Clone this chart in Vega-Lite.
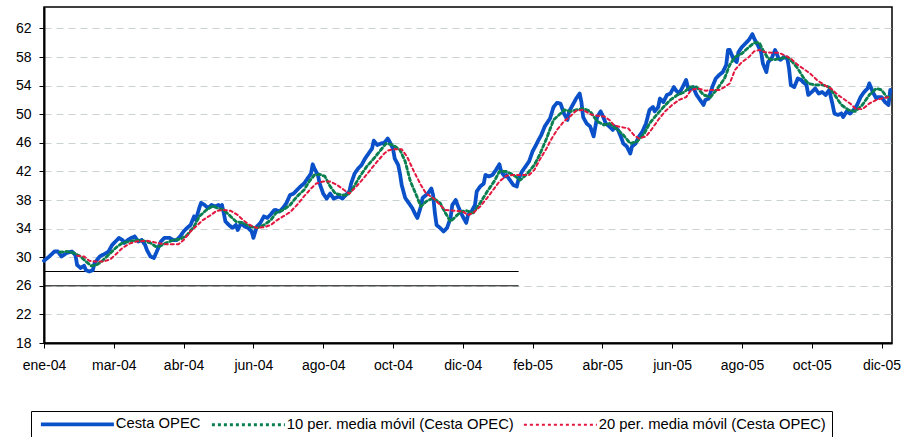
{
  "$schema": "https://vega.github.io/schema/vega-lite/v6.json",
  "autosize": {"type": "none"},
  "padding": {"left": 44, "top": 7, "right": 13, "bottom": 94},
  "width": 848,
  "height": 336,
  "background": "white",
  "config": {
    "font": "Liberation Sans",
    "view": {"stroke": "black", "strokeWidth": 1.5},
    "axis": {
      "title": null,
      "domainColor": "black",
      "domainWidth": 2,
      "tickColor": "black",
      "tickSize": 5,
      "tickWidth": 1,
      "labelFontSize": 14,
      "labelColor": "black",
      "labelFont": "Liberation Sans",
      "gridColor": "#c8d2d2",
      "gridDash": [7, 5],
      "gridWidth": 1
    },
    "legend": {
      "orient": "none",
      "legendX": -13,
      "legendY": 404,
      "direction": "horizontal",
      "title": null,
      "labelFontSize": 14.8,
      "labelColor": "black",
      "labelFont": "Liberation Sans",
      "labelLimit": 0,
      "padding": 6,
      "strokeColor": "black",
      "fillColor": "white",
      "symbolType": "M-7.3,0H7.3",
      "symbolSize": 100,
      "symbolOffset": 33,
      "labelOffset": 31,
      "columnPadding": 5,
      "symbolStrokeWidth": 2
    }
  },
  "layer": [
    {
      "data": {"values": [
        {"nivel": 28, "desde": 0, "hasta": 272},
        {"nivel": 26, "desde": 0, "hasta": 272}
      ]},
      "mark": {"type": "rule", "color": "black", "strokeWidth": 1},
      "encoding": {
        "x": {"field": "desde", "type": "quantitative", "scale": {"domain": [0, 486], "nice": false, "zero": false}},
        "x2": {"field": "hasta"},
        "y": {"field": "nivel", "type": "quantitative", "scale": {"domain": [18, 65], "nice": false, "zero": false}}
      }
    },
    {
      "data": {"values": [
        {"s":"Cesta OPEC","i":0,"v":29.5},{"s":"Cesta OPEC","i":3,"v":30.1},{"s":"Cesta OPEC","i":6,"v":30.8},{"s":"Cesta OPEC","i":8,"v":30.8},{"s":"Cesta OPEC","i":10,"v":30.1},{"s":"Cesta OPEC","i":13,"v":30.6},{"s":"Cesta OPEC","i":16,"v":30.8},{"s":"Cesta OPEC","i":18,"v":30.3},{"s":"Cesta OPEC","i":19,"v":28.9},{"s":"Cesta OPEC","i":21,"v":28.5},
        {"s":"Cesta OPEC","i":23,"v":28.8},{"s":"Cesta OPEC","i":24,"v":28.2},{"s":"Cesta OPEC","i":26,"v":28.0},{"s":"Cesta OPEC","i":28,"v":28.2},{"s":"Cesta OPEC","i":29,"v":29.2},{"s":"Cesta OPEC","i":32,"v":30.1},{"s":"Cesta OPEC","i":35,"v":30.5},{"s":"Cesta OPEC","i":37,"v":30.8},{"s":"Cesta OPEC","i":39,"v":31.7},{"s":"Cesta OPEC","i":41,"v":32.2},
        {"s":"Cesta OPEC","i":43,"v":32.7},{"s":"Cesta OPEC","i":45,"v":32.4},{"s":"Cesta OPEC","i":46,"v":32.0},{"s":"Cesta OPEC","i":48,"v":32.4},{"s":"Cesta OPEC","i":50,"v":32.7},{"s":"Cesta OPEC","i":52,"v":32.9},{"s":"Cesta OPEC","i":54,"v":32.2},{"s":"Cesta OPEC","i":56,"v":32.4},{"s":"Cesta OPEC","i":58,"v":31.7},{"s":"Cesta OPEC","i":59,"v":31.0},
        {"s":"Cesta OPEC","i":61,"v":30.1},{"s":"Cesta OPEC","i":63,"v":29.9},{"s":"Cesta OPEC","i":65,"v":31.0},{"s":"Cesta OPEC","i":67,"v":32.2},{"s":"Cesta OPEC","i":69,"v":32.7},{"s":"Cesta OPEC","i":72,"v":32.7},{"s":"Cesta OPEC","i":74,"v":32.4},{"s":"Cesta OPEC","i":76,"v":32.4},{"s":"Cesta OPEC","i":78,"v":32.9},{"s":"Cesta OPEC","i":80,"v":33.6},
        {"s":"Cesta OPEC","i":82,"v":34.1},{"s":"Cesta OPEC","i":84,"v":34.5},{"s":"Cesta OPEC","i":86,"v":35.7},{"s":"Cesta OPEC","i":87,"v":35.2},{"s":"Cesta OPEC","i":89,"v":36.9},{"s":"Cesta OPEC","i":90,"v":37.6},{"s":"Cesta OPEC","i":92,"v":37.3},{"s":"Cesta OPEC","i":94,"v":36.9},{"s":"Cesta OPEC","i":96,"v":37.3},{"s":"Cesta OPEC","i":98,"v":37.1},
        {"s":"Cesta OPEC","i":100,"v":37.3},{"s":"Cesta OPEC","i":101,"v":37.1},{"s":"Cesta OPEC","i":102,"v":37.3},{"s":"Cesta OPEC","i":103,"v":36.2},{"s":"Cesta OPEC","i":104,"v":35.0},{"s":"Cesta OPEC","i":106,"v":34.5},{"s":"Cesta OPEC","i":108,"v":34.1},{"s":"Cesta OPEC","i":110,"v":34.5},{"s":"Cesta OPEC","i":111,"v":33.8},{"s":"Cesta OPEC","i":113,"v":34.8},
        {"s":"Cesta OPEC","i":115,"v":34.3},{"s":"Cesta OPEC","i":117,"v":34.1},{"s":"Cesta OPEC","i":119,"v":33.6},{"s":"Cesta OPEC","i":120,"v":32.7},{"s":"Cesta OPEC","i":122,"v":34.3},{"s":"Cesta OPEC","i":124,"v":34.8},{"s":"Cesta OPEC","i":126,"v":35.7},{"s":"Cesta OPEC","i":128,"v":35.5},{"s":"Cesta OPEC","i":130,"v":36.0},{"s":"Cesta OPEC","i":132,"v":36.6},
        {"s":"Cesta OPEC","i":133,"v":36.6},{"s":"Cesta OPEC","i":135,"v":36.4},{"s":"Cesta OPEC","i":137,"v":36.9},{"s":"Cesta OPEC","i":139,"v":37.6},{"s":"Cesta OPEC","i":141,"v":38.7},{"s":"Cesta OPEC","i":143,"v":38.9},{"s":"Cesta OPEC","i":145,"v":39.4},{"s":"Cesta OPEC","i":147,"v":39.9},{"s":"Cesta OPEC","i":149,"v":40.3},{"s":"Cesta OPEC","i":151,"v":41.0},
        {"s":"Cesta OPEC","i":153,"v":41.7},{"s":"Cesta OPEC","i":154,"v":43.0},{"s":"Cesta OPEC","i":155,"v":42.4},{"s":"Cesta OPEC","i":157,"v":41.5},{"s":"Cesta OPEC","i":158,"v":40.3},{"s":"Cesta OPEC","i":160,"v":38.9},{"s":"Cesta OPEC","i":162,"v":38.2},{"s":"Cesta OPEC","i":164,"v":38.9},{"s":"Cesta OPEC","i":166,"v":38.2},{"s":"Cesta OPEC","i":169,"v":38.5},
        {"s":"Cesta OPEC","i":171,"v":38.2},{"s":"Cesta OPEC","i":173,"v":38.7},{"s":"Cesta OPEC","i":175,"v":39.2},{"s":"Cesta OPEC","i":176,"v":40.3},{"s":"Cesta OPEC","i":178,"v":41.7},{"s":"Cesta OPEC","i":180,"v":42.4},{"s":"Cesta OPEC","i":182,"v":42.9},{"s":"Cesta OPEC","i":184,"v":43.8},{"s":"Cesta OPEC","i":186,"v":44.5},{"s":"Cesta OPEC","i":188,"v":45.2},
        {"s":"Cesta OPEC","i":189,"v":46.3},{"s":"Cesta OPEC","i":191,"v":45.7},{"s":"Cesta OPEC","i":193,"v":45.9},{"s":"Cesta OPEC","i":195,"v":46.0},{"s":"Cesta OPEC","i":197,"v":46.6},{"s":"Cesta OPEC","i":198,"v":46.2},{"s":"Cesta OPEC","i":200,"v":45.2},{"s":"Cesta OPEC","i":201,"v":43.8},{"s":"Cesta OPEC","i":203,"v":42.9},{"s":"Cesta OPEC","i":204,"v":41.7},
        {"s":"Cesta OPEC","i":205,"v":40.1},{"s":"Cesta OPEC","i":207,"v":38.3},{"s":"Cesta OPEC","i":209,"v":37.6},{"s":"Cesta OPEC","i":211,"v":36.9},{"s":"Cesta OPEC","i":213,"v":35.9},{"s":"Cesta OPEC","i":214,"v":35.5},{"s":"Cesta OPEC","i":216,"v":37.1},{"s":"Cesta OPEC","i":217,"v":38.3},{"s":"Cesta OPEC","i":219,"v":38.7},{"s":"Cesta OPEC","i":220,"v":38.9},
        {"s":"Cesta OPEC","i":222,"v":39.6},{"s":"Cesta OPEC","i":223,"v":38.7},{"s":"Cesta OPEC","i":224,"v":36.2},{"s":"Cesta OPEC","i":225,"v":34.5},{"s":"Cesta OPEC","i":227,"v":34.1},{"s":"Cesta OPEC","i":229,"v":33.6},{"s":"Cesta OPEC","i":231,"v":34.1},{"s":"Cesta OPEC","i":233,"v":35.5},{"s":"Cesta OPEC","i":234,"v":37.3},{"s":"Cesta OPEC","i":236,"v":38.0},
        {"s":"Cesta OPEC","i":237,"v":37.3},{"s":"Cesta OPEC","i":239,"v":36.2},{"s":"Cesta OPEC","i":240,"v":35.7},{"s":"Cesta OPEC","i":242,"v":34.8},{"s":"Cesta OPEC","i":243,"v":35.9},{"s":"Cesta OPEC","i":245,"v":36.4},{"s":"Cesta OPEC","i":247,"v":37.3},{"s":"Cesta OPEC","i":248,"v":39.2},{"s":"Cesta OPEC","i":250,"v":39.9},{"s":"Cesta OPEC","i":252,"v":40.3},
        {"s":"Cesta OPEC","i":253,"v":41.5},{"s":"Cesta OPEC","i":255,"v":41.3},{"s":"Cesta OPEC","i":257,"v":41.5},{"s":"Cesta OPEC","i":259,"v":42.2},{"s":"Cesta OPEC","i":261,"v":43.0},{"s":"Cesta OPEC","i":262,"v":42.0},{"s":"Cesta OPEC","i":264,"v":41.3},{"s":"Cesta OPEC","i":265,"v":41.5},{"s":"Cesta OPEC","i":267,"v":40.8},{"s":"Cesta OPEC","i":269,"v":40.1},
        {"s":"Cesta OPEC","i":271,"v":39.9},{"s":"Cesta OPEC","i":272,"v":41.0},{"s":"Cesta OPEC","i":274,"v":42.0},{"s":"Cesta OPEC","i":276,"v":42.7},{"s":"Cesta OPEC","i":278,"v":43.4},{"s":"Cesta OPEC","i":280,"v":44.8},{"s":"Cesta OPEC","i":282,"v":45.7},{"s":"Cesta OPEC","i":283,"v":46.2},{"s":"Cesta OPEC","i":285,"v":47.1},{"s":"Cesta OPEC","i":287,"v":48.3},
        {"s":"Cesta OPEC","i":290,"v":49.4},{"s":"Cesta OPEC","i":291,"v":50.2},{"s":"Cesta OPEC","i":292,"v":51.0},{"s":"Cesta OPEC","i":294,"v":51.6},{"s":"Cesta OPEC","i":296,"v":51.5},{"s":"Cesta OPEC","i":298,"v":50.1},{"s":"Cesta OPEC","i":300,"v":49.2},{"s":"Cesta OPEC","i":301,"v":50.4},{"s":"Cesta OPEC","i":303,"v":51.3},{"s":"Cesta OPEC","i":305,"v":52.2},
        {"s":"Cesta OPEC","i":307,"v":52.9},{"s":"Cesta OPEC","i":308,"v":51.7},{"s":"Cesta OPEC","i":309,"v":49.6},{"s":"Cesta OPEC","i":311,"v":48.7},{"s":"Cesta OPEC","i":313,"v":48.3},{"s":"Cesta OPEC","i":315,"v":46.9},{"s":"Cesta OPEC","i":317,"v":49.6},{"s":"Cesta OPEC","i":319,"v":50.4},{"s":"Cesta OPEC","i":320,"v":49.9},{"s":"Cesta OPEC","i":322,"v":48.7},
        {"s":"Cesta OPEC","i":324,"v":48.3},{"s":"Cesta OPEC","i":326,"v":47.8},{"s":"Cesta OPEC","i":327,"v":48.3},{"s":"Cesta OPEC","i":329,"v":47.8},{"s":"Cesta OPEC","i":331,"v":46.6},{"s":"Cesta OPEC","i":332,"v":45.9},{"s":"Cesta OPEC","i":334,"v":45.5},{"s":"Cesta OPEC","i":336,"v":44.5},{"s":"Cesta OPEC","i":337,"v":45.5},{"s":"Cesta OPEC","i":339,"v":45.9},
        {"s":"Cesta OPEC","i":341,"v":46.9},{"s":"Cesta OPEC","i":343,"v":47.6},{"s":"Cesta OPEC","i":345,"v":48.7},{"s":"Cesta OPEC","i":347,"v":50.6},{"s":"Cesta OPEC","i":349,"v":51.0},{"s":"Cesta OPEC","i":350,"v":50.4},{"s":"Cesta OPEC","i":352,"v":51.0},{"s":"Cesta OPEC","i":353,"v":52.2},{"s":"Cesta OPEC","i":355,"v":51.7},{"s":"Cesta OPEC","i":357,"v":52.7},
        {"s":"Cesta OPEC","i":359,"v":52.9},{"s":"Cesta OPEC","i":361,"v":53.8},{"s":"Cesta OPEC","i":362,"v":53.4},{"s":"Cesta OPEC","i":364,"v":52.9},{"s":"Cesta OPEC","i":366,"v":53.8},{"s":"Cesta OPEC","i":368,"v":54.8},{"s":"Cesta OPEC","i":369,"v":53.8},{"s":"Cesta OPEC","i":370,"v":53.4},{"s":"Cesta OPEC","i":372,"v":53.8},{"s":"Cesta OPEC","i":374,"v":52.7},
        {"s":"Cesta OPEC","i":376,"v":52.0},{"s":"Cesta OPEC","i":378,"v":51.3},{"s":"Cesta OPEC","i":379,"v":52.0},{"s":"Cesta OPEC","i":381,"v":52.2},{"s":"Cesta OPEC","i":383,"v":53.8},{"s":"Cesta OPEC","i":385,"v":55.0},{"s":"Cesta OPEC","i":387,"v":55.5},{"s":"Cesta OPEC","i":389,"v":55.9},{"s":"Cesta OPEC","i":391,"v":56.9},{"s":"Cesta OPEC","i":392,"v":59.0},
        {"s":"Cesta OPEC","i":393,"v":59.0},{"s":"Cesta OPEC","i":395,"v":57.8},{"s":"Cesta OPEC","i":397,"v":57.3},{"s":"Cesta OPEC","i":398,"v":58.7},{"s":"Cesta OPEC","i":400,"v":59.4},{"s":"Cesta OPEC","i":402,"v":59.9},{"s":"Cesta OPEC","i":404,"v":60.4},{"s":"Cesta OPEC","i":406,"v":61.2},{"s":"Cesta OPEC","i":407,"v":60.6},{"s":"Cesta OPEC","i":409,"v":59.7},
        {"s":"Cesta OPEC","i":411,"v":58.7},{"s":"Cesta OPEC","i":412,"v":57.1},{"s":"Cesta OPEC","i":414,"v":55.9},{"s":"Cesta OPEC","i":415,"v":57.3},{"s":"Cesta OPEC","i":417,"v":57.8},{"s":"Cesta OPEC","i":419,"v":59.0},{"s":"Cesta OPEC","i":421,"v":57.8},{"s":"Cesta OPEC","i":422,"v":57.6},{"s":"Cesta OPEC","i":424,"v":58.0},{"s":"Cesta OPEC","i":426,"v":57.8},
        {"s":"Cesta OPEC","i":427,"v":56.4},{"s":"Cesta OPEC","i":428,"v":54.1},{"s":"Cesta OPEC","i":430,"v":53.8},{"s":"Cesta OPEC","i":432,"v":55.0},{"s":"Cesta OPEC","i":434,"v":54.8},{"s":"Cesta OPEC","i":435,"v":54.5},{"s":"Cesta OPEC","i":437,"v":54.1},{"s":"Cesta OPEC","i":438,"v":52.7},{"s":"Cesta OPEC","i":440,"v":53.1},{"s":"Cesta OPEC","i":442,"v":53.6},
        {"s":"Cesta OPEC","i":444,"v":52.9},{"s":"Cesta OPEC","i":446,"v":53.1},{"s":"Cesta OPEC","i":448,"v":52.7},{"s":"Cesta OPEC","i":450,"v":53.4},{"s":"Cesta OPEC","i":452,"v":51.3},{"s":"Cesta OPEC","i":453,"v":50.1},{"s":"Cesta OPEC","i":455,"v":49.9},{"s":"Cesta OPEC","i":457,"v":50.1},{"s":"Cesta OPEC","i":458,"v":49.6},{"s":"Cesta OPEC","i":460,"v":50.4},
        {"s":"Cesta OPEC","i":462,"v":50.1},{"s":"Cesta OPEC","i":464,"v":50.6},{"s":"Cesta OPEC","i":466,"v":51.3},{"s":"Cesta OPEC","i":468,"v":52.4},{"s":"Cesta OPEC","i":470,"v":53.1},{"s":"Cesta OPEC","i":472,"v":53.6},{"s":"Cesta OPEC","i":473,"v":54.3},{"s":"Cesta OPEC","i":475,"v":53.1},{"s":"Cesta OPEC","i":477,"v":52.2},{"s":"Cesta OPEC","i":478,"v":52.4},
        {"s":"Cesta OPEC","i":480,"v":52.4},{"s":"Cesta OPEC","i":482,"v":51.7},{"s":"Cesta OPEC","i":484,"v":51.3},{"s":"Cesta OPEC","i":485,"v":53.4},

        {"s":"10 per. media móvil (Cesta OPEC)","i":9,"v":30.7},{"s":"10 per. media móvil (Cesta OPEC)","i":13,"v":30.8},{"s":"10 per. media móvil (Cesta OPEC)","i":17,"v":30.6},{"s":"10 per. media móvil (Cesta OPEC)","i":21,"v":30.1},{"s":"10 per. media móvil (Cesta OPEC)","i":24,"v":29.4},{"s":"10 per. media móvil (Cesta OPEC)","i":27,"v":28.8},{"s":"10 per. media móvil (Cesta OPEC)","i":30,"v":28.9},{"s":"10 per. media móvil (Cesta OPEC)","i":33,"v":29.4},{"s":"10 per. media móvil (Cesta OPEC)","i":36,"v":30.1},{"s":"10 per. media móvil (Cesta OPEC)","i":39,"v":30.8},
        {"s":"10 per. media móvil (Cesta OPEC)","i":42,"v":31.5},{"s":"10 per. media móvil (Cesta OPEC)","i":45,"v":32.0},{"s":"10 per. media móvil (Cesta OPEC)","i":49,"v":32.2},{"s":"10 per. media móvil (Cesta OPEC)","i":53,"v":32.4},{"s":"10 per. media móvil (Cesta OPEC)","i":57,"v":32.3},{"s":"10 per. media móvil (Cesta OPEC)","i":61,"v":32.0},{"s":"10 per. media móvil (Cesta OPEC)","i":64,"v":31.5},{"s":"10 per. media móvil (Cesta OPEC)","i":66,"v":31.5},{"s":"10 per. media móvil (Cesta OPEC)","i":70,"v":32.0},{"s":"10 per. media móvil (Cesta OPEC)","i":74,"v":32.4},
        {"s":"10 per. media móvil (Cesta OPEC)","i":78,"v":32.5},{"s":"10 per. media móvil (Cesta OPEC)","i":82,"v":33.1},{"s":"10 per. media móvil (Cesta OPEC)","i":86,"v":34.3},{"s":"10 per. media móvil (Cesta OPEC)","i":89,"v":35.7},{"s":"10 per. media móvil (Cesta OPEC)","i":93,"v":36.6},{"s":"10 per. media móvil (Cesta OPEC)","i":97,"v":37.2},{"s":"10 per. media móvil (Cesta OPEC)","i":99,"v":36.9},{"s":"10 per. media móvil (Cesta OPEC)","i":103,"v":36.6},{"s":"10 per. media móvil (Cesta OPEC)","i":107,"v":35.7},{"s":"10 per. media móvil (Cesta OPEC)","i":110,"v":35.0},
        {"s":"10 per. media móvil (Cesta OPEC)","i":114,"v":34.8},{"s":"10 per. media móvil (Cesta OPEC)","i":118,"v":34.3},{"s":"10 per. media móvil (Cesta OPEC)","i":122,"v":34.1},{"s":"10 per. media móvil (Cesta OPEC)","i":126,"v":34.5},{"s":"10 per. media móvil (Cesta OPEC)","i":130,"v":35.2},{"s":"10 per. media móvil (Cesta OPEC)","i":133,"v":36.2},{"s":"10 per. media móvil (Cesta OPEC)","i":137,"v":36.6},{"s":"10 per. media móvil (Cesta OPEC)","i":141,"v":37.3},{"s":"10 per. media móvil (Cesta OPEC)","i":145,"v":38.5},{"s":"10 per. media móvil (Cesta OPEC)","i":149,"v":39.4},
        {"s":"10 per. media móvil (Cesta OPEC)","i":152,"v":40.6},{"s":"10 per. media móvil (Cesta OPEC)","i":155,"v":41.5},{"s":"10 per. media móvil (Cesta OPEC)","i":158,"v":41.6},{"s":"10 per. media móvil (Cesta OPEC)","i":161,"v":41.3},{"s":"10 per. media móvil (Cesta OPEC)","i":164,"v":39.9},{"s":"10 per. media móvil (Cesta OPEC)","i":167,"v":38.9},{"s":"10 per. media móvil (Cesta OPEC)","i":171,"v":38.7},{"s":"10 per. media móvil (Cesta OPEC)","i":174,"v":38.7},{"s":"10 per. media móvil (Cesta OPEC)","i":177,"v":39.6},{"s":"10 per. media móvil (Cesta OPEC)","i":181,"v":41.3},
        {"s":"10 per. media móvil (Cesta OPEC)","i":185,"v":42.7},{"s":"10 per. media móvil (Cesta OPEC)","i":189,"v":43.8},{"s":"10 per. media móvil (Cesta OPEC)","i":193,"v":45.0},{"s":"10 per. media móvil (Cesta OPEC)","i":196,"v":45.9},{"s":"10 per. media móvil (Cesta OPEC)","i":200,"v":45.7},{"s":"10 per. media móvil (Cesta OPEC)","i":204,"v":45.0},{"s":"10 per. media móvil (Cesta OPEC)","i":207,"v":43.4},{"s":"10 per. media móvil (Cesta OPEC)","i":210,"v":40.6},{"s":"10 per. media móvil (Cesta OPEC)","i":213,"v":38.9},{"s":"10 per. media móvil (Cesta OPEC)","i":216,"v":37.1},
        {"s":"10 per. media móvil (Cesta OPEC)","i":219,"v":37.8},{"s":"10 per. media móvil (Cesta OPEC)","i":223,"v":38.3},{"s":"10 per. media móvil (Cesta OPEC)","i":227,"v":37.6},{"s":"10 per. media móvil (Cesta OPEC)","i":230,"v":36.2},{"s":"10 per. media móvil (Cesta OPEC)","i":233,"v":35.0},{"s":"10 per. media móvil (Cesta OPEC)","i":236,"v":35.7},{"s":"10 per. media móvil (Cesta OPEC)","i":239,"v":36.4},{"s":"10 per. media móvil (Cesta OPEC)","i":242,"v":36.5},{"s":"10 per. media móvil (Cesta OPEC)","i":246,"v":36.2},{"s":"10 per. media móvil (Cesta OPEC)","i":250,"v":37.6},
        {"s":"10 per. media móvil (Cesta OPEC)","i":254,"v":39.2},{"s":"10 per. media móvil (Cesta OPEC)","i":258,"v":40.6},{"s":"10 per. media móvil (Cesta OPEC)","i":261,"v":42.0},{"s":"10 per. media móvil (Cesta OPEC)","i":265,"v":42.0},{"s":"10 per. media móvil (Cesta OPEC)","i":269,"v":41.5},{"s":"10 per. media móvil (Cesta OPEC)","i":273,"v":40.8},{"s":"10 per. media móvil (Cesta OPEC)","i":277,"v":41.7},{"s":"10 per. media móvil (Cesta OPEC)","i":281,"v":42.9},{"s":"10 per. media móvil (Cesta OPEC)","i":284,"v":44.3},{"s":"10 per. media móvil (Cesta OPEC)","i":288,"v":46.6},
        {"s":"10 per. media móvil (Cesta OPEC)","i":292,"v":49.2},{"s":"10 per. media móvil (Cesta OPEC)","i":296,"v":50.1},{"s":"10 per. media móvil (Cesta OPEC)","i":298,"v":50.6},{"s":"10 per. media móvil (Cesta OPEC)","i":302,"v":50.4},{"s":"10 per. media móvil (Cesta OPEC)","i":305,"v":50.6},{"s":"10 per. media móvil (Cesta OPEC)","i":309,"v":50.8},{"s":"10 per. media móvil (Cesta OPEC)","i":313,"v":50.4},{"s":"10 per. media móvil (Cesta OPEC)","i":317,"v":49.0},{"s":"10 per. media móvil (Cesta OPEC)","i":321,"v":48.5},{"s":"10 per. media móvil (Cesta OPEC)","i":324,"v":48.7},
        {"s":"10 per. media móvil (Cesta OPEC)","i":328,"v":48.0},{"s":"10 per. media móvil (Cesta OPEC)","i":332,"v":47.1},{"s":"10 per. media móvil (Cesta OPEC)","i":336,"v":45.9},{"s":"10 per. media móvil (Cesta OPEC)","i":340,"v":46.2},{"s":"10 per. media móvil (Cesta OPEC)","i":344,"v":47.3},{"s":"10 per. media móvil (Cesta OPEC)","i":347,"v":48.7},{"s":"10 per. media móvil (Cesta OPEC)","i":351,"v":49.9},{"s":"10 per. media móvil (Cesta OPEC)","i":355,"v":51.0},{"s":"10 per. media móvil (Cesta OPEC)","i":359,"v":52.0},{"s":"10 per. media móvil (Cesta OPEC)","i":363,"v":52.7},
        {"s":"10 per. media móvil (Cesta OPEC)","i":367,"v":53.1},{"s":"10 per. media móvil (Cesta OPEC)","i":370,"v":53.8},{"s":"10 per. media móvil (Cesta OPEC)","i":374,"v":53.8},{"s":"10 per. media móvil (Cesta OPEC)","i":378,"v":52.7},{"s":"10 per. media móvil (Cesta OPEC)","i":382,"v":52.4},{"s":"10 per. media móvil (Cesta OPEC)","i":386,"v":53.6},{"s":"10 per. media móvil (Cesta OPEC)","i":390,"v":55.0},{"s":"10 per. media móvil (Cesta OPEC)","i":393,"v":56.9},{"s":"10 per. media móvil (Cesta OPEC)","i":396,"v":58.0},{"s":"10 per. media móvil (Cesta OPEC)","i":400,"v":58.5},
        {"s":"10 per. media móvil (Cesta OPEC)","i":404,"v":59.4},{"s":"10 per. media móvil (Cesta OPEC)","i":407,"v":60.0},{"s":"10 per. media móvil (Cesta OPEC)","i":410,"v":60.0},{"s":"10 per. media móvil (Cesta OPEC)","i":412,"v":59.0},{"s":"10 per. media móvil (Cesta OPEC)","i":415,"v":57.8},{"s":"10 per. media móvil (Cesta OPEC)","i":418,"v":57.6},{"s":"10 per. media móvil (Cesta OPEC)","i":422,"v":57.8},{"s":"10 per. media móvil (Cesta OPEC)","i":426,"v":58.0},{"s":"10 per. media móvil (Cesta OPEC)","i":429,"v":57.3},{"s":"10 per. media móvil (Cesta OPEC)","i":432,"v":56.4},
        {"s":"10 per. media móvil (Cesta OPEC)","i":435,"v":55.2},{"s":"10 per. media móvil (Cesta OPEC)","i":438,"v":54.3},{"s":"10 per. media móvil (Cesta OPEC)","i":442,"v":54.1},{"s":"10 per. media móvil (Cesta OPEC)","i":446,"v":54.1},{"s":"10 per. media móvil (Cesta OPEC)","i":450,"v":53.8},{"s":"10 per. media móvil (Cesta OPEC)","i":454,"v":52.4},{"s":"10 per. media móvil (Cesta OPEC)","i":457,"v":51.3},{"s":"10 per. media móvil (Cesta OPEC)","i":461,"v":50.6},{"s":"10 per. media móvil (Cesta OPEC)","i":465,"v":50.4},{"s":"10 per. media móvil (Cesta OPEC)","i":469,"v":51.3},
        {"s":"10 per. media móvil (Cesta OPEC)","i":473,"v":52.7},{"s":"10 per. media móvil (Cesta OPEC)","i":477,"v":53.6},{"s":"10 per. media móvil (Cesta OPEC)","i":480,"v":53.4},{"s":"10 per. media móvil (Cesta OPEC)","i":483,"v":52.4},{"s":"10 per. media móvil (Cesta OPEC)","i":485,"v":52.4},

        {"s":"20 per. media móvil (Cesta OPEC)","i":19,"v":30.2},{"s":"20 per. media móvil (Cesta OPEC)","i":23,"v":30.1},{"s":"20 per. media móvil (Cesta OPEC)","i":26,"v":29.5},{"s":"20 per. media móvil (Cesta OPEC)","i":29,"v":29.4},{"s":"20 per. media móvil (Cesta OPEC)","i":34,"v":29.4},{"s":"20 per. media móvil (Cesta OPEC)","i":38,"v":29.7},{"s":"20 per. media móvil (Cesta OPEC)","i":42,"v":30.6},{"s":"20 per. media móvil (Cesta OPEC)","i":45,"v":31.3},{"s":"20 per. media móvil (Cesta OPEC)","i":49,"v":31.9},{"s":"20 per. media móvil (Cesta OPEC)","i":53,"v":32.2},
        {"s":"20 per. media móvil (Cesta OPEC)","i":59,"v":32.3},{"s":"20 per. media móvil (Cesta OPEC)","i":65,"v":32.0},{"s":"20 per. media móvil (Cesta OPEC)","i":70,"v":31.8},{"s":"20 per. media móvil (Cesta OPEC)","i":77,"v":31.8},{"s":"20 per. media móvil (Cesta OPEC)","i":80,"v":32.4},{"s":"20 per. media móvil (Cesta OPEC)","i":84,"v":33.6},{"s":"20 per. media móvil (Cesta OPEC)","i":88,"v":34.5},{"s":"20 per. media móvil (Cesta OPEC)","i":91,"v":35.2},{"s":"20 per. media móvil (Cesta OPEC)","i":95,"v":35.8},{"s":"20 per. media móvil (Cesta OPEC)","i":99,"v":36.5},
        {"s":"20 per. media móvil (Cesta OPEC)","i":103,"v":36.6},{"s":"20 per. media móvil (Cesta OPEC)","i":107,"v":36.5},{"s":"20 per. media móvil (Cesta OPEC)","i":111,"v":35.9},{"s":"20 per. media móvil (Cesta OPEC)","i":114,"v":35.2},{"s":"20 per. media móvil (Cesta OPEC)","i":118,"v":34.5},{"s":"20 per. media móvil (Cesta OPEC)","i":122,"v":34.1},{"s":"20 per. media móvil (Cesta OPEC)","i":126,"v":34.2},{"s":"20 per. media móvil (Cesta OPEC)","i":130,"v":34.5},{"s":"20 per. media móvil (Cesta OPEC)","i":133,"v":35.1},{"s":"20 per. media móvil (Cesta OPEC)","i":137,"v":35.7},
        {"s":"20 per. media móvil (Cesta OPEC)","i":141,"v":36.3},{"s":"20 per. media móvil (Cesta OPEC)","i":145,"v":37.3},{"s":"20 per. media móvil (Cesta OPEC)","i":149,"v":38.5},{"s":"20 per. media móvil (Cesta OPEC)","i":153,"v":39.6},{"s":"20 per. media móvil (Cesta OPEC)","i":156,"v":40.3},{"s":"20 per. media móvil (Cesta OPEC)","i":160,"v":40.6},{"s":"20 per. media móvil (Cesta OPEC)","i":164,"v":40.6},{"s":"20 per. media móvil (Cesta OPEC)","i":168,"v":40.1},{"s":"20 per. media móvil (Cesta OPEC)","i":172,"v":39.4},{"s":"20 per. media móvil (Cesta OPEC)","i":175,"v":38.9},
        {"s":"20 per. media móvil (Cesta OPEC)","i":179,"v":39.9},{"s":"20 per. media móvil (Cesta OPEC)","i":183,"v":41.0},{"s":"20 per. media móvil (Cesta OPEC)","i":187,"v":42.2},{"s":"20 per. media móvil (Cesta OPEC)","i":191,"v":43.4},{"s":"20 per. media móvil (Cesta OPEC)","i":195,"v":44.5},{"s":"20 per. media móvil (Cesta OPEC)","i":197,"v":44.9},{"s":"20 per. media móvil (Cesta OPEC)","i":200,"v":45.1},{"s":"20 per. media móvil (Cesta OPEC)","i":205,"v":45.1},{"s":"20 per. media móvil (Cesta OPEC)","i":208,"v":44.1},{"s":"20 per. media móvil (Cesta OPEC)","i":212,"v":42.0},
        {"s":"20 per. media móvil (Cesta OPEC)","i":216,"v":40.1},{"s":"20 per. media móvil (Cesta OPEC)","i":219,"v":38.9},{"s":"20 per. media móvil (Cesta OPEC)","i":223,"v":38.3},{"s":"20 per. media móvil (Cesta OPEC)","i":227,"v":37.3},{"s":"20 per. media móvil (Cesta OPEC)","i":230,"v":36.6},{"s":"20 per. media móvil (Cesta OPEC)","i":235,"v":36.5},{"s":"20 per. media móvil (Cesta OPEC)","i":240,"v":36.4},{"s":"20 per. media móvil (Cesta OPEC)","i":243,"v":35.9},{"s":"20 per. media móvil (Cesta OPEC)","i":246,"v":36.2},{"s":"20 per. media móvil (Cesta OPEC)","i":250,"v":37.1},
        {"s":"20 per. media móvil (Cesta OPEC)","i":254,"v":38.3},{"s":"20 per. media móvil (Cesta OPEC)","i":258,"v":39.6},{"s":"20 per. media móvil (Cesta OPEC)","i":261,"v":40.6},{"s":"20 per. media móvil (Cesta OPEC)","i":265,"v":41.4},{"s":"20 per. media móvil (Cesta OPEC)","i":269,"v":41.5},{"s":"20 per. media móvil (Cesta OPEC)","i":275,"v":41.5},{"s":"20 per. media móvil (Cesta OPEC)","i":278,"v":41.5},{"s":"20 per. media móvil (Cesta OPEC)","i":281,"v":42.2},{"s":"20 per. media móvil (Cesta OPEC)","i":284,"v":43.6},{"s":"20 per. media móvil (Cesta OPEC)","i":288,"v":45.2},
        {"s":"20 per. media móvil (Cesta OPEC)","i":290,"v":46.2},{"s":"20 per. media móvil (Cesta OPEC)","i":294,"v":47.8},{"s":"20 per. media móvil (Cesta OPEC)","i":298,"v":49.0},{"s":"20 per. media móvil (Cesta OPEC)","i":302,"v":49.8},{"s":"20 per. media móvil (Cesta OPEC)","i":305,"v":50.5},{"s":"20 per. media móvil (Cesta OPEC)","i":309,"v":50.6},{"s":"20 per. media móvil (Cesta OPEC)","i":313,"v":50.0},{"s":"20 per. media móvil (Cesta OPEC)","i":317,"v":49.8},{"s":"20 per. media móvil (Cesta OPEC)","i":321,"v":49.7},{"s":"20 per. media móvil (Cesta OPEC)","i":324,"v":49.2},
        {"s":"20 per. media móvil (Cesta OPEC)","i":327,"v":48.4},{"s":"20 per. media móvil (Cesta OPEC)","i":331,"v":48.2},{"s":"20 per. media móvil (Cesta OPEC)","i":335,"v":48.0},{"s":"20 per. media móvil (Cesta OPEC)","i":338,"v":47.1},{"s":"20 per. media móvil (Cesta OPEC)","i":341,"v":46.6},{"s":"20 per. media móvil (Cesta OPEC)","i":345,"v":46.9},{"s":"20 per. media móvil (Cesta OPEC)","i":348,"v":47.8},{"s":"20 per. media móvil (Cesta OPEC)","i":352,"v":49.2},{"s":"20 per. media móvil (Cesta OPEC)","i":356,"v":50.4},{"s":"20 per. media móvil (Cesta OPEC)","i":360,"v":51.3},
        {"s":"20 per. media móvil (Cesta OPEC)","i":364,"v":52.0},{"s":"20 per. media móvil (Cesta OPEC)","i":368,"v":52.4},{"s":"20 per. media móvil (Cesta OPEC)","i":371,"v":53.4},{"s":"20 per. media móvil (Cesta OPEC)","i":375,"v":53.6},{"s":"20 per. media móvil (Cesta OPEC)","i":379,"v":53.3},{"s":"20 per. media móvil (Cesta OPEC)","i":383,"v":53.4},{"s":"20 per. media móvil (Cesta OPEC)","i":387,"v":53.4},{"s":"20 per. media móvil (Cesta OPEC)","i":390,"v":53.8},{"s":"20 per. media móvil (Cesta OPEC)","i":393,"v":54.3},{"s":"20 per. media móvil (Cesta OPEC)","i":396,"v":56.2},
        {"s":"20 per. media móvil (Cesta OPEC)","i":400,"v":57.3},{"s":"20 per. media móvil (Cesta OPEC)","i":404,"v":58.0},{"s":"20 per. media móvil (Cesta OPEC)","i":407,"v":58.8},{"s":"20 per. media móvil (Cesta OPEC)","i":410,"v":59.0},{"s":"20 per. media móvil (Cesta OPEC)","i":413,"v":58.7},{"s":"20 per. media móvil (Cesta OPEC)","i":417,"v":58.6},{"s":"20 per. media móvil (Cesta OPEC)","i":421,"v":58.6},{"s":"20 per. media móvil (Cesta OPEC)","i":424,"v":58.3},{"s":"20 per. media móvil (Cesta OPEC)","i":428,"v":57.8},{"s":"20 per. media móvil (Cesta OPEC)","i":432,"v":56.9},
        {"s":"20 per. media móvil (Cesta OPEC)","i":435,"v":56.4},{"s":"20 per. media móvil (Cesta OPEC)","i":439,"v":55.7},{"s":"20 per. media móvil (Cesta OPEC)","i":443,"v":54.8},{"s":"20 per. media móvil (Cesta OPEC)","i":447,"v":54.1},{"s":"20 per. media móvil (Cesta OPEC)","i":451,"v":53.6},{"s":"20 per. media móvil (Cesta OPEC)","i":455,"v":52.7},{"s":"20 per. media móvil (Cesta OPEC)","i":458,"v":52.2},{"s":"20 per. media móvil (Cesta OPEC)","i":462,"v":51.5},{"s":"20 per. media móvil (Cesta OPEC)","i":465,"v":50.8},{"s":"20 per. media móvil (Cesta OPEC)","i":469,"v":50.7},
        {"s":"20 per. media móvil (Cesta OPEC)","i":473,"v":51.5},{"s":"20 per. media móvil (Cesta OPEC)","i":477,"v":52.0},{"s":"20 per. media móvil (Cesta OPEC)","i":480,"v":52.2},{"s":"20 per. media móvil (Cesta OPEC)","i":484,"v":52.4}
      ]},
      "mark": {"type": "line", "strokeJoin": "round", "strokeCap": "round"},
      "encoding": {
        "x": {
          "field": "i", "type": "quantitative",
          "scale": {"domain": [0, 486], "nice": false, "zero": false},
          "axis": {
            "values": [0, 40, 80, 120, 160, 200, 240, 280, 320, 360, 400, 440, 480],
            "tickCount": 13,
            "labelExpr": "['ene-04','mar-04','abr-04','jun-04','ago-04','oct-04','dic-04','feb-05','abr-05','jun-05','ago-05','oct-05','dic-05'][round(datum.value/40)]",
            "grid": false,
            "labelFlush": false,
            "labelOverlap": false,
            "labelPadding": 10
          }
        },
        "y": {
          "field": "v", "type": "quantitative",
          "scale": {"domain": [18, 65], "nice": false, "zero": false},
          "axis": {
            "values": [18, 22, 26, 30, 34, 38, 42, 46, 50, 54, 58, 62],
            "tickCount": 12,
            "grid": true,
            "labelPadding": 8,
            "labelOverlap": false
          }
        },
        "color": {
          "field": "s", "type": "nominal",
          "scale": {
            "domain": ["Cesta OPEC", "10 per. media móvil (Cesta OPEC)", "20 per. media móvil (Cesta OPEC)"],
            "range": ["#0a50c8", "#0a7f50", "#e3173e"]
          },
          "legend": {
            "encode": {"symbols": {"update": {"strokeWidth": {"signal": "datum.value === 'Cesta OPEC' ? 4 : 2"}}}}
          }
        },
        "strokeDash": {
          "field": "s", "type": "nominal",
          "scale": {
            "domain": ["Cesta OPEC", "10 per. media móvil (Cesta OPEC)", "20 per. media móvil (Cesta OPEC)"],
            "range": [[1, 0], [3, 3], [3, 3]]
          },
          "legend": {
            "encode": {"symbols": {"update": {"strokeWidth": {"signal": "datum.value === 'Cesta OPEC' ? 4 : 2"}}}}
          }
        },
        "strokeWidth": {
          "field": "s", "type": "ordinal",
          "scale": {
            "domain": ["Cesta OPEC", "10 per. media móvil (Cesta OPEC)", "20 per. media móvil (Cesta OPEC)"],
            "range": [3.8, 2, 2]
          },
          "legend": null
        }
      }
    }
  ]
}
